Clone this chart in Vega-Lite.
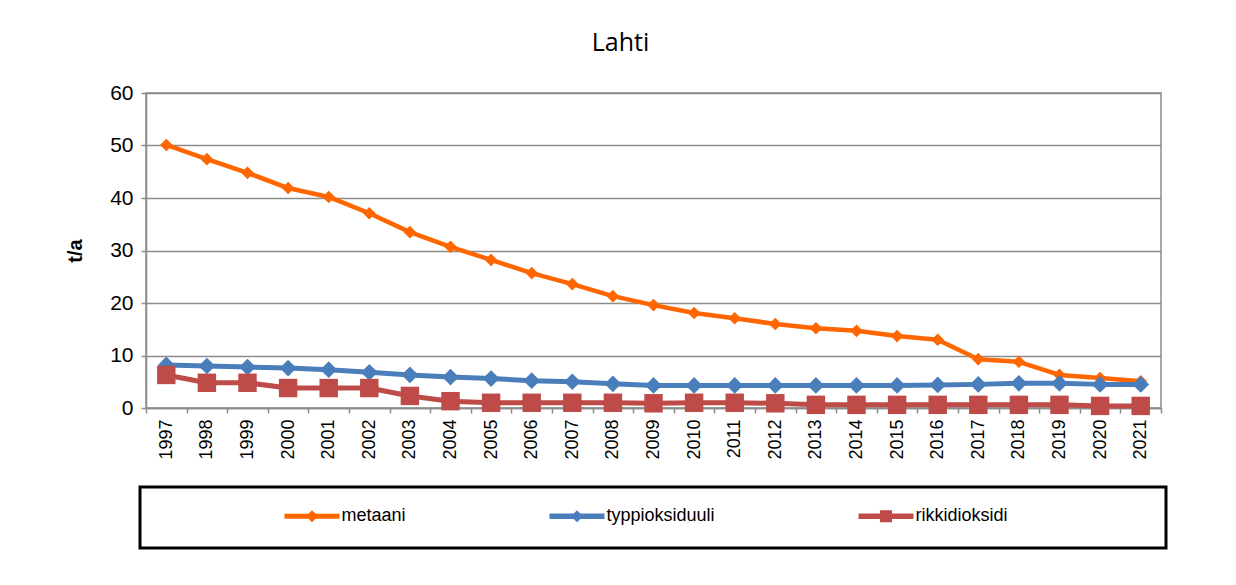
{
  "$schema": "https://vega.github.io/schema/vega-lite/v6.json",
  "width": 1015,
  "height": 315,
  "autosize": "none",
  "padding": {"left": 146, "top": 93, "right": 75, "bottom": 177},
  "background": "white",
  "config": {
    "font": "Liberation Sans",
    "view": {"stroke": "#8c8c8c", "strokeWidth": 1.5}
  },
  "title": {
    "text": "Lahti",
    "font": "Open Sans",
    "fontSize": 25,
    "fontWeight": "normal",
    "color": "black",
    "anchor": "middle",
    "dx": -33,
    "offset": 26
  },
  "data": {
    "values": [
      {"year": "1997", "series": "metaani", "value": 50.1},
      {"year": "1998", "series": "metaani", "value": 47.4},
      {"year": "1999", "series": "metaani", "value": 44.8},
      {"year": "2000", "series": "metaani", "value": 41.9},
      {"year": "2001", "series": "metaani", "value": 40.2},
      {"year": "2002", "series": "metaani", "value": 37.1},
      {"year": "2003", "series": "metaani", "value": 33.5},
      {"year": "2004", "series": "metaani", "value": 30.7},
      {"year": "2005", "series": "metaani", "value": 28.2},
      {"year": "2006", "series": "metaani", "value": 25.7},
      {"year": "2007", "series": "metaani", "value": 23.6},
      {"year": "2008", "series": "metaani", "value": 21.3},
      {"year": "2009", "series": "metaani", "value": 19.6},
      {"year": "2010", "series": "metaani", "value": 18.1},
      {"year": "2011", "series": "metaani", "value": 17.1},
      {"year": "2012", "series": "metaani", "value": 16.0},
      {"year": "2013", "series": "metaani", "value": 15.2},
      {"year": "2014", "series": "metaani", "value": 14.7},
      {"year": "2015", "series": "metaani", "value": 13.7},
      {"year": "2016", "series": "metaani", "value": 13.0},
      {"year": "2017", "series": "metaani", "value": 9.3},
      {"year": "2018", "series": "metaani", "value": 8.8},
      {"year": "2019", "series": "metaani", "value": 6.3},
      {"year": "2020", "series": "metaani", "value": 5.7},
      {"year": "2021", "series": "metaani", "value": 5.1},
      {"year": "1997", "series": "typpioksiduuli", "value": 8.2},
      {"year": "1998", "series": "typpioksiduuli", "value": 8.0},
      {"year": "1999", "series": "typpioksiduuli", "value": 7.8},
      {"year": "2000", "series": "typpioksiduuli", "value": 7.6},
      {"year": "2001", "series": "typpioksiduuli", "value": 7.3},
      {"year": "2002", "series": "typpioksiduuli", "value": 6.8},
      {"year": "2003", "series": "typpioksiduuli", "value": 6.3},
      {"year": "2004", "series": "typpioksiduuli", "value": 5.9},
      {"year": "2005", "series": "typpioksiduuli", "value": 5.6},
      {"year": "2006", "series": "typpioksiduuli", "value": 5.2},
      {"year": "2007", "series": "typpioksiduuli", "value": 5.0},
      {"year": "2008", "series": "typpioksiduuli", "value": 4.6},
      {"year": "2009", "series": "typpioksiduuli", "value": 4.3},
      {"year": "2010", "series": "typpioksiduuli", "value": 4.3},
      {"year": "2011", "series": "typpioksiduuli", "value": 4.3},
      {"year": "2012", "series": "typpioksiduuli", "value": 4.3},
      {"year": "2013", "series": "typpioksiduuli", "value": 4.3},
      {"year": "2014", "series": "typpioksiduuli", "value": 4.3},
      {"year": "2015", "series": "typpioksiduuli", "value": 4.3},
      {"year": "2016", "series": "typpioksiduuli", "value": 4.4},
      {"year": "2017", "series": "typpioksiduuli", "value": 4.5},
      {"year": "2018", "series": "typpioksiduuli", "value": 4.7},
      {"year": "2019", "series": "typpioksiduuli", "value": 4.7},
      {"year": "2020", "series": "typpioksiduuli", "value": 4.5},
      {"year": "2021", "series": "typpioksiduuli", "value": 4.5},
      {"year": "1997", "series": "rikkidioksidi", "value": 6.3},
      {"year": "1998", "series": "rikkidioksidi", "value": 4.8},
      {"year": "1999", "series": "rikkidioksidi", "value": 4.8},
      {"year": "2000", "series": "rikkidioksidi", "value": 3.8},
      {"year": "2001", "series": "rikkidioksidi", "value": 3.8},
      {"year": "2002", "series": "rikkidioksidi", "value": 3.8},
      {"year": "2003", "series": "rikkidioksidi", "value": 2.3},
      {"year": "2004", "series": "rikkidioksidi", "value": 1.3},
      {"year": "2005", "series": "rikkidioksidi", "value": 1.0},
      {"year": "2006", "series": "rikkidioksidi", "value": 1.0},
      {"year": "2007", "series": "rikkidioksidi", "value": 1.0},
      {"year": "2008", "series": "rikkidioksidi", "value": 1.0},
      {"year": "2009", "series": "rikkidioksidi", "value": 0.9},
      {"year": "2010", "series": "rikkidioksidi", "value": 1.0},
      {"year": "2011", "series": "rikkidioksidi", "value": 1.0},
      {"year": "2012", "series": "rikkidioksidi", "value": 0.9},
      {"year": "2013", "series": "rikkidioksidi", "value": 0.6},
      {"year": "2014", "series": "rikkidioksidi", "value": 0.6},
      {"year": "2015", "series": "rikkidioksidi", "value": 0.6},
      {"year": "2016", "series": "rikkidioksidi", "value": 0.6},
      {"year": "2017", "series": "rikkidioksidi", "value": 0.6},
      {"year": "2018", "series": "rikkidioksidi", "value": 0.6},
      {"year": "2019", "series": "rikkidioksidi", "value": 0.6},
      {"year": "2020", "series": "rikkidioksidi", "value": 0.4},
      {"year": "2021", "series": "rikkidioksidi", "value": 0.4}
    ]
  },
  "encoding": {
    "x": {
      "field": "year",
      "type": "ordinal",
      "sort": null,
      "scale": {"type": "band", "paddingInner": 0, "paddingOuter": 0},
      "axis": {
        "title": null,
        "labelAngle": 270,
        "labelAlign": "right",
        "labelBaseline": "middle",
        "labelFontSize": 18,
        "labelColor": "black",
        "labelPadding": 6,
        "tickBand": "extent",
        "tickSize": 5,
        "tickColor": "#8c8c8c",
        "tickWidth": 1.5,
        "domainColor": "#8c8c8c",
        "domainWidth": 1.5,
        "grid": false
      }
    },
    "y": {
      "field": "value",
      "type": "quantitative",
      "scale": {"domain": [0, 60], "nice": false},
      "axis": {
        "title": "t/a",
        "titleFontSize": 20,
        "titleFontWeight": "bold",
        "titleColor": "black",
        "titlePadding": 24,
        "values": [0, 10, 20, 30, 40, 50, 60],
        "labelFontSize": 21,
        "labelColor": "black",
        "labelPadding": 8,
        "tickSize": 5,
        "tickColor": "#8c8c8c",
        "tickWidth": 1.5,
        "domainColor": "#8c8c8c",
        "domainWidth": 1.5,
        "grid": true,
        "gridColor": "#8c8c8c",
        "gridWidth": 1.5
      }
    },
    "color": {
      "field": "series",
      "type": "nominal",
      "scale": {
        "domain": ["metaani", "typpioksiduuli", "rikkidioksidi"],
        "range": ["#FF6600", "#4A7EBB", "#BE4B48"]
      },
      "legend": {
        "title": "\u00a0",
        "titleOrient": "right",
        "titleFontSize": 40,
        "titleBaseline": "top",
        "titlePadding": 157,
        "orient": "none",
        "legendX": -6,
        "legendY": 394,
        "direction": "horizontal",
        "gridAlign": "each",
        "columnPadding": 0,
        "padding": 1.5,
        "strokeColor": "black",
        "symbolSize": 3025,
        "symbolOffset": 143,
        "symbolStrokeWidth": 0,
        "labelOffset": 2,
        "labelFontSize": 18,
        "labelColor": "black",
        "labelFont": "Liberation Sans",
        "encode": {
          "legend": {"update": {"strokeWidth": {"value": 3}}},
          "symbols": {
            "update": {
              "shape": {"signal": "datum.value === 'rikkidioksidi' ? 'M-1,-0.1L-0.22,-0.1L-0.22,-0.22L0.22,-0.22L0.22,-0.1L1,-0.1L1,0.1L0.22,0.1L0.22,0.22L-0.22,0.22L-0.22,0.1L-1,0.1Z' : (datum.value === 'metaani' ? 'M-1,-0.09L-0.13,-0.09L0,-0.22L0.13,-0.09L1,-0.09L1,0.09L0.13,0.09L0,0.22L-0.13,0.09L-1,0.09Z' : 'M-1,-0.1L-0.12,-0.1L0,-0.22L0.12,-0.1L1,-0.1L1,0.1L0.12,0.1L0,0.22L-0.12,0.1L-1,0.1Z')"},
              "size": {"value": 3025},
              "strokeWidth": {"value": 0},
              "opacity": {"value": 1}
            }
          }
        }
      }
    }
  },
  "layer": [
    {
      "mark": {"type": "line", "strokeWidth": 4.5, "strokeJoin": "round"},
      "transform": [{"filter": "datum.series === 'metaani'"}]
    },
    {
      "mark": {"type": "point", "shape": "diamond", "size": 160, "filled": true, "opacity": 1, "strokeWidth": 0},
      "transform": [{"filter": "datum.series === 'metaani'"}]
    },
    {
      "mark": {"type": "line", "strokeWidth": 5, "strokeJoin": "round"},
      "transform": [{"filter": "datum.series === 'typpioksiduuli'"}]
    },
    {
      "mark": {"type": "point", "shape": "diamond", "size": 280, "filled": true, "opacity": 1, "strokeWidth": 0},
      "transform": [{"filter": "datum.series === 'typpioksiduuli'"}]
    },
    {
      "mark": {"type": "line", "strokeWidth": 5, "strokeJoin": "round"},
      "transform": [{"filter": "datum.series === 'rikkidioksidi'"}]
    },
    {
      "mark": {"type": "point", "shape": "square", "size": 340, "filled": true, "opacity": 1, "strokeWidth": 0},
      "transform": [{"filter": "datum.series === 'rikkidioksidi'"}]
    }
  ]
}
